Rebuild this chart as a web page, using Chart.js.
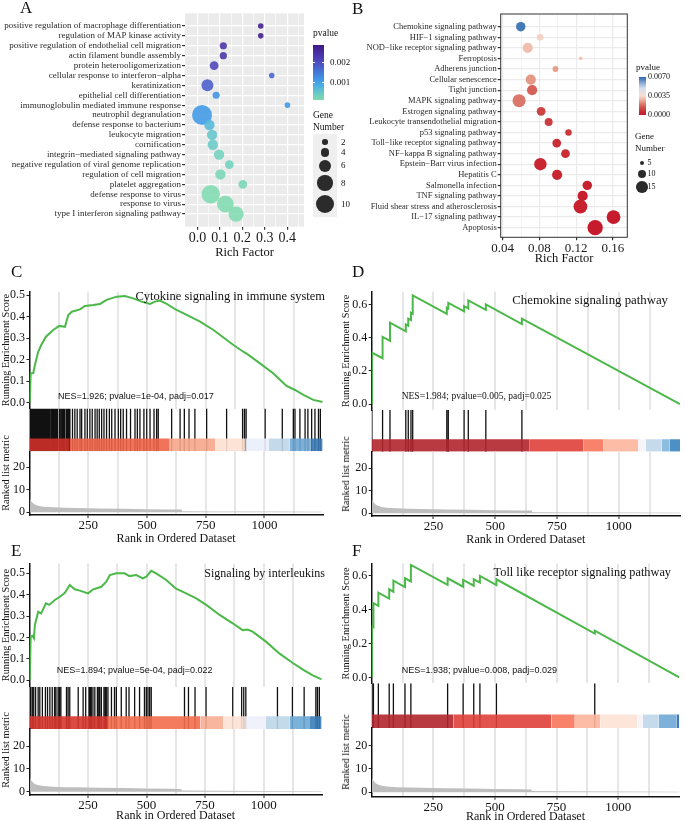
<!DOCTYPE html>
<html>
<head>
<meta charset="utf-8">
<title>Enrichment and GSEA figure</title>
<script src="https://cdn.jsdelivr.net/npm/chart.js@4.4.1/dist/chart.umd.min.js"></script>
<style>
  html, body { margin: 0; padding: 0; background: #fff; }
  body { position: relative; width: 685px; height: 821px; overflow: hidden;
         font-family: "Liberation Serif", "Times New Roman", serif; color: #111; }
  canvas { position: absolute; }
  .t { position: absolute; white-space: nowrap; }
  .dot { position: absolute; border-radius: 50%; background: #2b2b2b; }
</style>
</head>
<body>
<script>
// --- data: panel A (GO terms) ---
const aTerms = [
  'positive regulation of macrophage differentiation', 'regulation of MAP kinase activity',
  'positive regulation of endothelial cell migration', 'actin filament bundle assembly',
  'protein heterooligomerization', 'cellular response to interferon\u2212alpha', 'keratinization',
  'epithelial cell differentiation', 'immunoglobulin mediated immune response', 'neutrophil degranulation',
  'defense response to bacterium', 'leukocyte migration', 'cornification',
  'integrin\u2212mediated signaling pathway', 'negative regulation of viral genome replication',
  'regulation of cell migration', 'platelet aggregation', 'defense response to virus',
  'response to virus', 'type I interferon signaling pathway'
];
const aRichFactor = [0.282, 0.282, 0.115, 0.115, 0.074, 0.331, 0.044, 0.083, 0.401, 0.020,
                     0.053, 0.065, 0.068, 0.096, 0.142, 0.102, 0.202, 0.059, 0.124, 0.172];
const aPvalue = [0.0028, 0.0028, 0.0024, 0.0024, 0.0021, 0.0017, 0.0018, 0.0012, 0.0011, 0.0011,
                 0.0007, 0.0005, 0.0004, 0.0003, 0.0003, 0.0002, 0.0002, 0.0001, 0.0001, 0.0001];
const aGeneCount = [2, 2, 3, 3, 4, 2, 6, 3, 2, 11, 5, 5, 5, 5, 4, 5, 4, 10, 9, 8];
const aRichTicks = [0, 0.1, 0.2, 0.3, 0.4];
const aLegendCounts = [2, 4, 6, 8, 10];

// --- data: panel B (KEGG pathways) ---
const bTerms = [
  'Chemokine signaling pathway', 'HIF\u22121 signaling pathway', 'NOD\u2212like receptor signaling pathway',
  'Ferroptosis', 'Adherens junction', 'Cellular senescence', 'Tight junction', 'MAPK signaling pathway',
  'Estrogen signaling pathway', 'Leukocyte transendothelial migration', 'p53 signaling pathway',
  'Toll\u2212like receptor signaling pathway', 'NF\u2212kappa B signaling pathway', 'Epstein\u2212Barr virus infection',
  'Hepatitis C', 'Salmonella infection', 'TNF signaling pathway', 'Fluid shear stress and atherosclerosis',
  'IL\u221217 signaling pathway', 'Apoptosis'
];
const bRichFactor = [0.0596, 0.0807, 0.0672, 0.125, 0.0974, 0.0705, 0.072, 0.0578, 0.0818, 0.090,
                     0.1116, 0.0988, 0.1083, 0.081, 0.0992, 0.132, 0.127, 0.1246, 0.1606, 0.1406];
const bPvalue = [0.0067, 0.0033, 0.0030, 0.0031, 0.0025, 0.0024, 0.0017, 0.0020, 0.0011, 0.0010,
                 0.0009, 0.0006, 0.0006, 0.0004, 0.0004, 0.0002, 0.0002, 0.0002, 0.0001, 0.00005];
const bGeneCount = [12, 8, 13, 4, 7, 13, 13, 17, 11, 10, 8, 11, 11, 16, 13, 12, 13, 18, 18, 20];
const bRichTicks = [0.04, 0.08, 0.12, 0.16];
const bLegendCounts = [5, 10, 15];

// --- data: GSEA panels ---
const nGenes = 1248;
const rankTicks = [250, 500, 750, 1000];
const metricRanks = [1, 3, 8, 15, 25, 40, 60, 100, 150, 200, 300, 400, 500, 600, 648, 650, 800, 1000, 1248];
const metricValues = [6.5, 5.8, 4.8, 4.0, 3.3, 2.8, 2.5, 2.2, 2.0, 1.9, 1.7, 1.6, 1.4, 1.25, 1.2, 0.5, 0.4, 0.3, 0.2];

const cEsRanks = [1, 5, 16, 23, 37, 50, 70, 101, 127, 151, 165, 180, 215, 236, 272, 300, 328, 371, 406, 441,
                  477, 513, 534, 555, 584, 626, 669, 726, 783, 868, 910, 932, 981, 1037, 1094, 1130, 1166, 1208, 1248];
const cEsScores = [0, 0.137, 0.137, 0.175, 0.237, 0.268, 0.307, 0.338, 0.357, 0.353, 0.408, 0.423, 0.434, 0.45,
                   0.454, 0.459, 0.478, 0.493, 0.496, 0.485, 0.47, 0.459, 0.47, 0.475, 0.459, 0.431, 0.408, 0.377,
                   0.338, 0.268, 0.237, 0.222, 0.183, 0.137, 0.078, 0.059, 0.036, 0.013, 0.003];
const cHits = [1, 5, 8, 12, 16, 19, 23, 26, 30, 35, 40, 43, 47, 51, 56, 60, 63, 66, 70, 73, 77, 80, 84, 88, 94,
               97, 101, 104, 108, 111, 115, 119, 127, 131, 137, 141, 146, 151, 158, 162, 165, 168, 172, 183, 193,
               203, 215, 222, 236, 246, 257, 267, 279, 288, 297, 307, 317, 328, 340, 350, 364, 378, 388, 399, 413,
               430, 449, 459, 470, 487, 499, 513, 530, 541, 548, 605, 641, 659, 679, 704, 754, 839, 907, 915, 922,
               1003, 1076, 1123, 1130, 1151, 1173, 1185, 1201, 1215, 1230, 1238];
const cBarEdges = [0, 170, 597, 790, 920, 1017, 1108, 1195, 1248];
const cBarColors = ['#cf3029', '#ef6548', '#f6a68a', '#fde0d2', '#eaeef9', '#bed6e9', '#6fa9d5', '#3a7ab6'];

const dEsRanks = [1, 1, 44, 44, 74, 74, 138, 138, 148, 148, 159, 159, 166, 166, 304, 304, 310, 310, 374, 374,
                  391, 391, 462, 462, 608, 608, 1248];
const dEsScores = [0, 0.31, 0.276, 0.405, 0.381, 0.49, 0.438, 0.48, 0.472, 0.515, 0.506, 0.55, 0.544, 0.655,
                   0.544, 0.58, 0.575, 0.61, 0.559, 0.59, 0.576, 0.625, 0.568, 0.60, 0.482, 0.515, 0];
const dHits = [1, 44, 74, 138, 148, 159, 166, 304, 310, 374, 391, 462, 608];
const dBarEdges = [0, 640, 856, 937, 1079, 1109, 1173, 1205, 1248];
const dBarColors = ['#b2252d', '#e0403a', '#f8745a', '#fcb59b', '#f4f3f8', '#bfd7ea', '#80b6db', '#3a84c0'];

const eEsRanks = [1, 5, 13, 19, 23, 37, 50, 70, 84, 108, 130, 151, 172, 193, 215, 250, 272, 307, 328, 343, 371,
                  406, 427, 456, 484, 499, 520, 541, 584, 626, 669, 712, 755, 812, 868, 910, 932, 953, 1010, 1067,
                  1123, 1166, 1208, 1248];
const eEsScores = [0, 0.203, 0.207, 0.196, 0.258, 0.32, 0.312, 0.359, 0.352, 0.375, 0.39, 0.409, 0.445, 0.425,
                   0.419, 0.406, 0.425, 0.437, 0.461, 0.492, 0.5, 0.5, 0.487, 0.492, 0.476, 0.484, 0.512, 0.5,
                   0.469, 0.428, 0.406, 0.383, 0.352, 0.305, 0.266, 0.234, 0.237, 0.227, 0.18, 0.125, 0.081,
                   0.05, 0.023, 0.003];
const eHits = [1, 5, 12, 18, 26, 37, 44, 55, 68, 77, 87, 97, 107, 113, 122, 128, 134, 158, 165, 172, 208, 229,
               240, 254, 259, 264, 271, 279, 290, 296, 300, 307, 318, 324, 328, 335, 350, 363, 371, 392, 413, 425,
               449, 470, 491, 499, 506, 513, 520, 662, 679, 707, 754, 868, 906, 915, 924, 1059, 1123, 1173, 1223,
               1230, 1238];
const eBarEdges = [0, 332, 730, 828, 920, 1010, 1112, 1198, 1248];
const eBarColors = ['#d7372f', '#f46d4e', '#f8ae93', '#fde1d4', '#eef0fa', '#bdd6e9', '#6eaad6', '#3a7db8'];

const fEsRanks = [1, 1, 7, 7, 27, 27, 71, 71, 88, 88, 135, 135, 159, 159, 308, 308, 371, 371, 414, 414, 439, 439,
                  506, 506, 905, 905, 1248];
const fEsScores = [0, 0.30, 0.295, 0.437, 0.421, 0.499, 0.464, 0.519, 0.505, 0.57, 0.532, 0.584, 0.565, 0.663,
                   0.545, 0.584, 0.534, 0.574, 0.54, 0.578, 0.558, 0.598, 0.544, 0.578, 0.258, 0.275, 0];
const fHits = [1, 7, 27, 71, 88, 135, 159, 308, 371, 414, 439, 506, 905];
const fBarEdges = [0, 331, 729, 824, 928, 1078, 1100, 1165, 1236, 1248];
const fBarColors = ['#b2252d', '#e0403a', '#f8745a', '#fcb59b', '#fde2d6', '#f4f3f8', '#bfd7ea', '#6fa9d6', '#2a6db0'];


// --- setup ---
const SERIF = '"Liberation Serif", "Times New Roman", serif';
const SANS = '"Liberation Sans", Arial, sans-serif';
Chart.defaults.font.family = SERIF;
Chart.defaults.color = '#222';
Chart.defaults.animation = false;
Chart.defaults.events = [];
Chart.defaults.plugins.legend.display = false;
Chart.defaults.plugins.tooltip.enabled = false;

const gridRanks = [125, 250, 375, 500, 625, 750, 875, 1000, 1125];

// colour scales (pvalue -> rgb)
const aStops = [[0.0001, [128, 219, 176]], [0.0005, [100, 198, 204]], [0.0010, [62, 162, 234]],
                [0.0017, [72, 100, 206]], [0.0022, [80, 60, 180]], [0.0029, [60, 24, 132]]];
const bStops = [[0, [197, 25, 43]], [0.0008, [203, 52, 57]], [0.0018, [214, 104, 94]], [0.0025, [232, 160, 140]],
                [0.0035, [247, 222, 212]], [0.0050, [212, 222, 238]], [0.0070, [44, 104, 176]]];

function scaleColor(stops, v, alpha) {
  let c = stops[stops.length - 1][1];
  if (v <= stops[0][0]) c = stops[0][1];
  else {
    for (let i = 1; i < stops.length; i++) {
      if (v <= stops[i][0]) {
        const t = (v - stops[i - 1][0]) / (stops[i][0] - stops[i - 1][0]);
        c = stops[i - 1][1].map((x, k) => Math.round(x + (stops[i][1][k] - x) * t));
        break;
      }
    }
  }
  return 'rgba(' + c.join(',') + ',' + (alpha == null ? 1 : alpha) + ')';
}

function hexA(hex, a) {
  const n = parseInt(hex.slice(1), 16);
  return 'rgba(' + (n >> 16) + ',' + ((n >> 8) & 255) + ',' + (n & 255) + ',' + a + ')';
}

const rA = n => 0.8 * n + 1.2;
const rB = n => 0.365 * n + 0.35;

// canvas placed so that the plot area lands on box
function frame(box, axisW, xH, padR, padT, padB, hasY) {
  const left = Math.floor(box.l - axisW);
  const top = Math.floor(box.t - padT);
  const w = Math.ceil(box.r + padR) - left;
  const h = Math.ceil(box.b + xH + padB) - top;
  const c = document.createElement('canvas');
  c.width = w; c.height = h;
  c.style.left = left + 'px'; c.style.top = top + 'px';
  document.body.appendChild(c);
  return {
    canvas: c,
    yW: box.l - left,
    padding: { left: hasY ? 0 : box.l - left, top: box.t - top, right: left + w - box.r, bottom: top + h - box.b - xH }
  };
}

function label(str, x, cy, size, o) {
  o = o || {};
  const d = document.createElement('div');
  const lh = Math.round(size * 1.2);
  d.className = 't';
  d.textContent = str;
  d.style.fontSize = size + 'px';
  d.style.lineHeight = lh + 'px';
  d.style.top = (cy - lh / 2) + 'px';
  if (o.right) d.style.right = (685 - x) + 'px'; else d.style.left = x + 'px';
  if (o.sans) d.style.fontFamily = SANS;
  document.body.appendChild(d);
  return d;
}

function vlabel(str, cx, cy, size) {
  const d = label(str, cx, cy, size);
  d.style.top = cy + 'px';
  d.style.transform = 'translate(-50%, -50%) rotate(-90deg)';
}

function dot(cx, cy, r) {
  const d = document.createElement('div');
  d.className = 'dot';
  d.style.left = (cx - r) + 'px'; d.style.top = (cy - r) + 'px';
  d.style.width = (2 * r) + 'px'; d.style.height = (2 * r) + 'px';
  document.body.appendChild(d);
}

const panelBg = {
  id: 'panelBg',
  beforeDraw(chart) {
    const { ctx, chartArea: a } = chart;
    ctx.save(); ctx.fillStyle = '#ebebeb';
    ctx.fillRect(a.left, a.top, a.width, a.height); ctx.restore();
  }
};
const panelBorder = {
  id: 'panelBorder',
  afterDatasetsDraw(chart) {
    const { ctx, chartArea: a } = chart;
    ctx.save(); ctx.strokeStyle = '#333'; ctx.lineWidth = 1;
    ctx.strokeRect(a.left, a.top, a.width, a.height); ctx.restore();
  }
};

// --- bubble panels ---
function withMinors(majors, step, max) {
  const out = [];
  majors.forEach(v => { out.push(v); if (v + step / 2 <= max) out.push(+(v + step / 2).toFixed(4)); });
  return out;
}

function bubblePanel(cfg) {
  const f = frame(cfg.box, cfg.box.l - cfg.x0, cfg.xH, 12, 10, 0, true);
  const xt = withMinors(cfg.richTicks, cfg.step, cfg.xMax);
  new Chart(f.canvas, {
    type: 'bubble',
    data: {
      datasets: [{
        data: cfg.rich.map((v, i) => ({ x: v, y: i, r: cfg.radius(cfg.count[i]) })),
        backgroundColor: cfg.pval.map(p => scaleColor(cfg.stops, p, cfg.alpha)),
        borderWidth: 0
      }]
    },
    options: {
      responsive: false,
      layout: { padding: f.padding },
      scales: {
        x: {
          type: 'linear', min: cfg.xMin, max: cfg.xMax,
          afterBuildTicks: s => { s.ticks = xt.map(v => ({ value: v })); },
          afterFit: s => { s.height = cfg.xH; },
          grid: {
            color: cfg.gridColor, lineWidth: c => (c.index % 2 ? 0.6 : 1.2), tickLength: 3,
            tickColor: c => (c.index % 2 ? 'rgba(0,0,0,0)' : '#333')
          },
          border: { display: false },
          ticks: {
            padding: 0, autoSkip: false, maxRotation: 0, font: { size: cfg.xFont }, color: '#1a1a1a',
            callback: (v, i) => (i % 2 ? '' : v.toFixed(cfg.digits))
          },
          title: { display: true, text: 'Rich Factor', font: { size: 12.5 }, padding: 0, color: '#111' }
        },
        y: {
          type: 'linear', reverse: true, min: cfg.yMin, max: cfg.yMax,
          afterBuildTicks: s => { s.ticks = cfg.terms.map((t, i) => ({ value: i })); },
          afterFit: s => { s.width = f.yW; },
          grid: { color: cfg.gridColor, lineWidth: 1.2, tickLength: 3, tickColor: '#333' },
          border: { display: false },
          ticks: { padding: 1, autoSkip: false, font: { size: cfg.yFont }, color: '#2a2a2a',
                   callback: v => cfg.terms[v] }
        }
      }
    },
    plugins: [cfg.plugin]
  });
}

bubblePanel({
  x0: 0, box: { l: 185, t: 13.3, r: 304, b: 226.7 }, xH: 33.2,
  terms: aTerms, rich: aRichFactor, pval: aPvalue, count: aGeneCount,
  richTicks: aRichTicks, step: 0.1, xMin: -0.056, xMax: 0.475, yMin: -1.28, yMax: 20.28,
  radius: rA, stops: aStops, alpha: 0.88, gridColor: '#ffffff', xFont: 14, yFont: 9, digits: 1,
  plugin: panelBg
});

bubblePanel({
  x0: 340, box: { l: 500.7, t: 14, r: 627.3, b: 237.3 }, xH: 28.7,
  terms: bTerms, rich: bRichFactor, pval: bPvalue, count: bGeneCount,
  richTicks: bRichTicks, step: 0.04, xMin: 0.0378, xMax: 0.1756, yMin: -1.2, yMax: 19.91,
  radius: rB, stops: bStops, alpha: 1, gridColor: '#ebebeb', xFont: 13, yFont: 8.5, digits: 2,
  plugin: panelBorder
});

// --- GSEA panels ---
function rankAxis(withLabels, height) {
  return {
    type: 'linear', min: 0, max: nGenes,
    afterBuildTicks: s => { s.ticks = gridRanks.map(v => ({ value: v })); },
    afterFit: s => { s.height = height; },
    grid: {
      color: '#e6e6e6', lineWidth: 2, drawTicks: withLabels, tickLength: 3, tickWidth: 1,
      tickColor: c => (c.tick && rankTicks.includes(c.tick.value) ? '#222' : 'rgba(0,0,0,0)')
    },
    border: { display: withLabels, color: '#111', width: 1.5 },
    ticks: {
      display: withLabels, autoSkip: false, maxRotation: 0, padding: 0, font: { size: 13 }, color: '#111',
      callback: v => (rankTicks.includes(v) ? String(v) : '')
    },
    title: { display: withLabels, text: 'Rank in Ordered Dataset', font: { size: 12 }, padding: 0, color: '#111' }
  };
}

function leftAxis(f, min, max, ticks, digits, title) {
  return {
    type: 'linear', min: min, max: max,
    afterBuildTicks: s => { s.ticks = ticks.map(v => ({ value: v })); },
    afterFit: s => { s.width = f.yW; },
    grid: { drawOnChartArea: false, tickLength: 3, tickColor: '#222' },
    border: { color: '#111', width: 1.5 },
    ticks: { padding: 1.5, font: { size: 12 }, color: '#111', callback: v => v.toFixed(digits) },
    title: { display: !!title, text: title, font: { size: 10.3 }, padding: 0, color: '#111' }
  };
}

function gseaPanel(p) {
  // running enrichment score
  const fe = frame(p.es, p.es.l - p.x0, 0, 12, 10, 10, true);
  new Chart(fe.canvas, {
    type: 'line',
    data: { datasets: [{
      data: p.ranks.map((r, i) => ({ x: r, y: p.scores[i] })),
      borderColor: '#4cb84a', borderWidth: 2, pointRadius: 0, tension: 0, fill: false
    }] },
    options: {
      responsive: false, layout: { padding: fe.padding },
      scales: { x: rankAxis(false, 0), y: leftAxis(fe, p.esMin, p.esMax, p.esTicks, 1, 'Running Enrichment Score') }
    }
  });

  // hits + colour bar
  const fh = frame(p.hit, 0, 0, 2, 0, 0, false);
  const segs = p.edges.slice(0, -1).map((e, i) => ({
    data: [{ x: e, y: 0.3 }, { x: p.edges[i + 1], y: 0.3 }],
    backgroundColor: hexA(p.colors[i], 0.9), borderWidth: 0, pointRadius: 0, fill: 'origin', order: 1
  }));
  const hitLines = {
    data: p.hits.flatMap(h => [{ x: h, y: 0 }, { x: h, y: 1 }, { x: h, y: null }]),
    borderColor: '#111', borderWidth: 1.3, pointRadius: 0, spanGaps: false, fill: false, order: 2
  };
  new Chart(fh.canvas, {
    type: 'line',
    data: { datasets: segs.concat([hitLines]) },
    options: {
      responsive: false, layout: { padding: fh.padding },
      scales: {
        x: { type: 'linear', display: false, min: 0, max: nGenes },
        y: { type: 'linear', display: false, min: 0, max: 1 }
      }
    }
  });

  // ranked list metric
  const H = p.rankTitleY + 7.2 - p.rk.b;
  const fr = frame(p.rk, p.rk.l - p.x0, H, 12, 10, 0, true);
  new Chart(fr.canvas, {
    type: 'line',
    data: { datasets: [{
      data: metricRanks.map((r, i) => ({ x: r, y: metricValues[i] })),
      backgroundColor: '#bebebe', borderColor: '#bebebe', borderWidth: 0, pointRadius: 0, fill: 'origin'
    }] },
    options: {
      responsive: false, layout: { padding: fr.padding },
      scales: { x: rankAxis(true, H), y: leftAxis(fr, p.rkMin, p.rkMax, [0, 10, 20], 0, '') }
    }
  });

  vlabel('Ranked list metric', p.x0 + 6.2, p.rkTitleY, 10.3);
  label(p.title, p.titleRight, p.titleY, p.titleSize, { right: true });
  label(p.nes, p.nesX, p.nesY, p.nesSans ? 9 : 9.5, { sans: p.nesSans });
}

gseaPanel({
  x0: 0, es: { l: 29.5, t: 291.7, r: 322.7, b: 408.5 }, esMin: -0.027, esMax: 0.516, esTicks: [0, 0.1, 0.2, 0.3, 0.4, 0.5],
  ranks: cEsRanks, scores: cEsScores,
  hit: { l: 29.5, t: 408.5, r: 322.7, b: 451.3 }, hits: cHits, edges: cBarEdges, colors: cBarColors,
  rk: { l: 29.5, t: 451.3, r: 322.7, b: 515 }, rkMin: -1.2, rkMax: 27.1, rankTitleY: 539, rkTitleY: 472.5,
  title: 'Cytokine signaling in immune system', titleRight: 325, titleY: 296, titleSize: 12.5,
  nes: 'NES=1.926; pvalue=1e-04, padj=0.017', nesX: 58, nesY: 396.7, nesSans: true
});

gseaPanel({
  x0: 340, es: { l: 371.7, t: 291.7, r: 680, b: 410 }, esMin: -0.036, esMax: 0.677, esTicks: [0, 0.2, 0.4, 0.6],
  ranks: dEsRanks, scores: dEsScores,
  hit: { l: 371.7, t: 410, r: 680, b: 451.7 }, hits: dHits, edges: dBarEdges, colors: dBarColors,
  rk: { l: 371.7, t: 451.7, r: 680, b: 516 }, rkMin: -1.2, rkMax: 27.3, rankTitleY: 540, rkTitleY: 474,
  title: 'Chemokine signaling pathway', titleRight: 668, titleY: 300.8, titleSize: 12.8,
  nes: 'NES=1.984; pvalue=0.005, padj=0.025', nesX: 401.7, nesY: 396.7, nesSans: false
});

gseaPanel({
  x0: 0, es: { l: 29.5, t: 563.5, r: 321.7, b: 686.7 }, esMin: -0.031, esMax: 0.546, esTicks: [0, 0.1, 0.2, 0.3, 0.4, 0.5],
  ranks: eEsRanks, scores: eEsScores,
  hit: { l: 29.5, t: 686.7, r: 321.7, b: 729 }, hits: eHits, edges: eBarEdges, colors: eBarColors,
  rk: { l: 29.5, t: 729, r: 321.7, b: 795 }, rkMin: -1.45, rkMax: 27.5, rankTitleY: 816, rkTitleY: 750,
  title: 'Signaling by interleukins', titleRight: 325, titleY: 572.7, titleSize: 12,
  nes: 'NES=1.894; pvalue=5e-04, padj=0.022', nesX: 56.7, nesY: 670, nesSans: true
});

gseaPanel({
  x0: 340, es: { l: 371.7, t: 563.5, r: 679.3, b: 683.3 }, esMin: -0.035, esMax: 0.671, esTicks: [0, 0.2, 0.4, 0.6],
  ranks: fEsRanks, scores: fEsScores,
  hit: { l: 371.7, t: 683.3, r: 679.3, b: 728 }, hits: fHits, edges: fBarEdges, colors: fBarColors,
  rk: { l: 371.7, t: 728, r: 679.3, b: 796.7 }, rkMin: -1.9, rkMax: 27.6, rankTitleY: 817, rkTitleY: 751.7,
  title: 'Toll like receptor signaling pathway', titleRight: 671, titleY: 572.6, titleSize: 12.3,
  nes: 'NES=1.938; pvalue=0.008, padj=0.029', nesX: 401.7, nesY: 670, nesSans: true
});

// --- legend A ---
label('pvalue', 313, 33, 9.5);
(function () {
  const g = document.createElement('div');
  const top = 0.00285, bottom = 0.0001, stops = [];
  for (let i = 0; i <= 10; i++) stops.push(scaleColor(aStops, top - (top - bottom) * i / 10) + ' ' + (i * 10) + '%');
  g.style.cssText = 'position:absolute;left:313px;top:45px;width:11px;height:55px;background:linear-gradient(to bottom,' + stops.join(',') + ')';
  document.body.appendChild(g);
  [62, 82].forEach(y => {
    const tk = document.createElement('div');
    tk.style.cssText = 'position:absolute;left:313px;top:' + (y - 0.5) + 'px;width:11px;height:1px;background:linear-gradient(to right,#fff 0,#fff 2px,transparent 2px,transparent 9px,#fff 9px)';
    document.body.appendChild(tk);
  });
})();
label('0.002', 330, 62, 9);
label('0.001', 330, 82, 9);
label('Gene', 313, 115, 9.5);
label('Number', 313, 127.5, 9.5);
(function () {
  const box = document.createElement('div');
  box.style.cssText = 'position:absolute;left:313px;top:134px;width:24px;height:83px;background:#efefef';
  document.body.appendChild(box);
  const ys = [142, 152.5, 165.5, 183, 204];
  aLegendCounts.forEach((n, i) => { dot(325, ys[i], rA(n)); label(String(n), 341, ys[i], 9); });
})();

// --- legend B ---
label('pvalue', 636, 67, 9);
(function () {
  const g = document.createElement('div');
  const stops = [];
  for (let i = 0; i <= 10; i++) stops.push(scaleColor(bStops, 0.007 * (1 - i / 10)) + ' ' + (i * 10) + '%');
  g.style.cssText = 'position:absolute;left:639px;top:76.5px;width:7px;height:38.5px;background:linear-gradient(to bottom,' + stops.join(',') + ')';
  document.body.appendChild(g);
})();
label('0.0070', 648, 77, 8);
label('0.0035', 648, 95.7, 8);
label('0.0000', 648, 114.5, 8);
label('Gene', 635, 136, 9);
label('Number', 635, 148, 9);
[163, 174, 187].forEach((y, i) => { dot(642.3, y, rB(bLegendCounts[i])); label(String(bLegendCounts[i]), 647.5, y, 8); });

// --- panel letters ---
label('A', 20, 8, 17);
label('B', 352, 8.5, 17);
label('C', 11, 272, 17);
label('D', 352, 272, 17);
label('E', 11, 551, 17);
label('F', 352, 551, 17);
</script>
</body>
</html>
